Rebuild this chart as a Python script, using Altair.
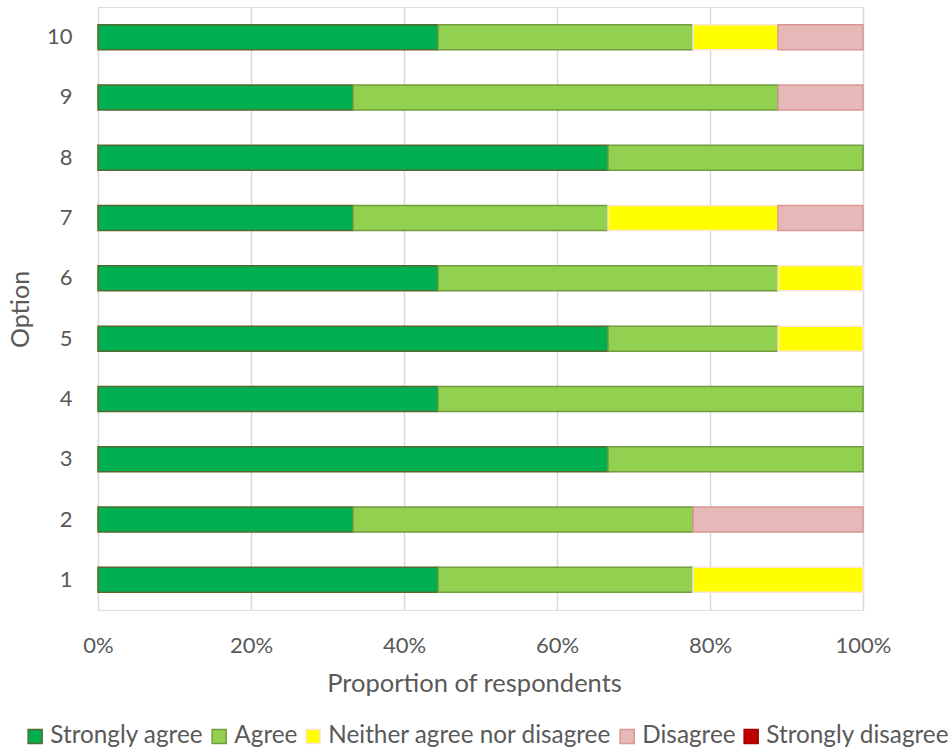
import altair as alt
import pandas as pd

# Counts of 9 respondents per option
options = [1, 2, 3, 4, 5, 6, 7, 8, 9, 10]
responses = ["Strongly agree", "Agree", "Neither agree nor disagree", "Disagree", "Strongly disagree"]
strongly_agree = [4, 3, 6, 4, 6, 4, 3, 6, 3, 4]
agree = [3, 4, 3, 5, 2, 4, 3, 3, 5, 3]
neither = [2, 0, 0, 0, 1, 1, 2, 0, 0, 1]
disagree = [0, 2, 0, 0, 0, 0, 1, 0, 1, 1]
strongly_disagree = [0, 0, 0, 0, 0, 0, 0, 0, 0, 0]

fill_colors = ["#00B050", "#92D050", "#FFFF00", "#E6B8B7", "#C00000"]
stroke_colors = ["#55692E", "#739C40", "#FBE5D6", "#D99694", "#A00000"]

series = [strongly_agree, agree, neither, disagree, strongly_disagree]
rows = []
for rank, (resp, vals) in enumerate(zip(responses, series)):
    for opt, v in zip(options, vals):
        if v > 0:
            rows.append({"Option": opt, "response": resp, "count": v, "rank": rank})
df = pd.DataFrame(rows)

FONT = "Lato"
TXT = "#595959"

legend = alt.Legend(
    title=None, orient="none", direction="horizontal",
    legendX=-75, legendY=717, padding=0,
    symbolType="square", symbolSize=196, symbolStrokeWidth=1.5,
    labelFont=FONT, labelFontSize=24.3, labelColor=TXT, labelLimit=500,
    labelOffset=3, columnPadding=3,
)

chart = alt.Chart(df).mark_bar(strokeWidth=1.5).encode(
    x=alt.X(
        "count:Q", stack="normalize",
        scale=alt.Scale(domain=[0, 1], nice=False),
        axis=alt.Axis(
            format="%", values=[0, 0.2, 0.4, 0.6, 0.8, 1.0],
            title="Proportion of respondents",
            domain=False, ticks=False, tickSize=0, labelFlush=False,
            grid=True, gridColor="#D9D9D9", gridWidth=1.5,
            labelFont=FONT, labelFontSize=22, labelColor=TXT,
            labelBaseline="alphabetic", labelPadding=42,
            titleFont=FONT, titleFontSize=25.5, titleColor=TXT, titleFontWeight="normal",
            titleBaseline="alphabetic", titleY=81, titleX=376,
        ),
    ),
    y=alt.Y(
        "Option:O", sort="descending",
        scale=alt.Scale(paddingInner=0.586, paddingOuter=0.293),
        axis=alt.Axis(
            title="Option", domain=False, ticks=False, tickSize=0, grid=False,
            labelFont=FONT, labelFontSize=22, labelColor=TXT, labelPadding=26,
            titleFont=FONT, titleFontSize=25, titleColor=TXT, titleFontWeight="normal",
            titleAngle=-90, titleX=-78, titleY=302, titleBaseline="middle", titleAlign="center",
        ),
    ),
    fill=alt.Fill("response:N", scale=alt.Scale(domain=responses, range=fill_colors), legend=legend),
    stroke=alt.Stroke("response:N", scale=alt.Scale(domain=responses, range=stroke_colors), legend=legend),
    order=alt.Order("rank:Q"),
).properties(
    width=765, height=603,
    autosize=alt.AutoSizeParams(type="none"),
    padding={"left": 98, "top": 7, "right": 87, "bottom": 143},
).configure_view(stroke=None).configure(background="white")

chart.save("out.html", embed_options={"renderer": "svg", "actions": False})
